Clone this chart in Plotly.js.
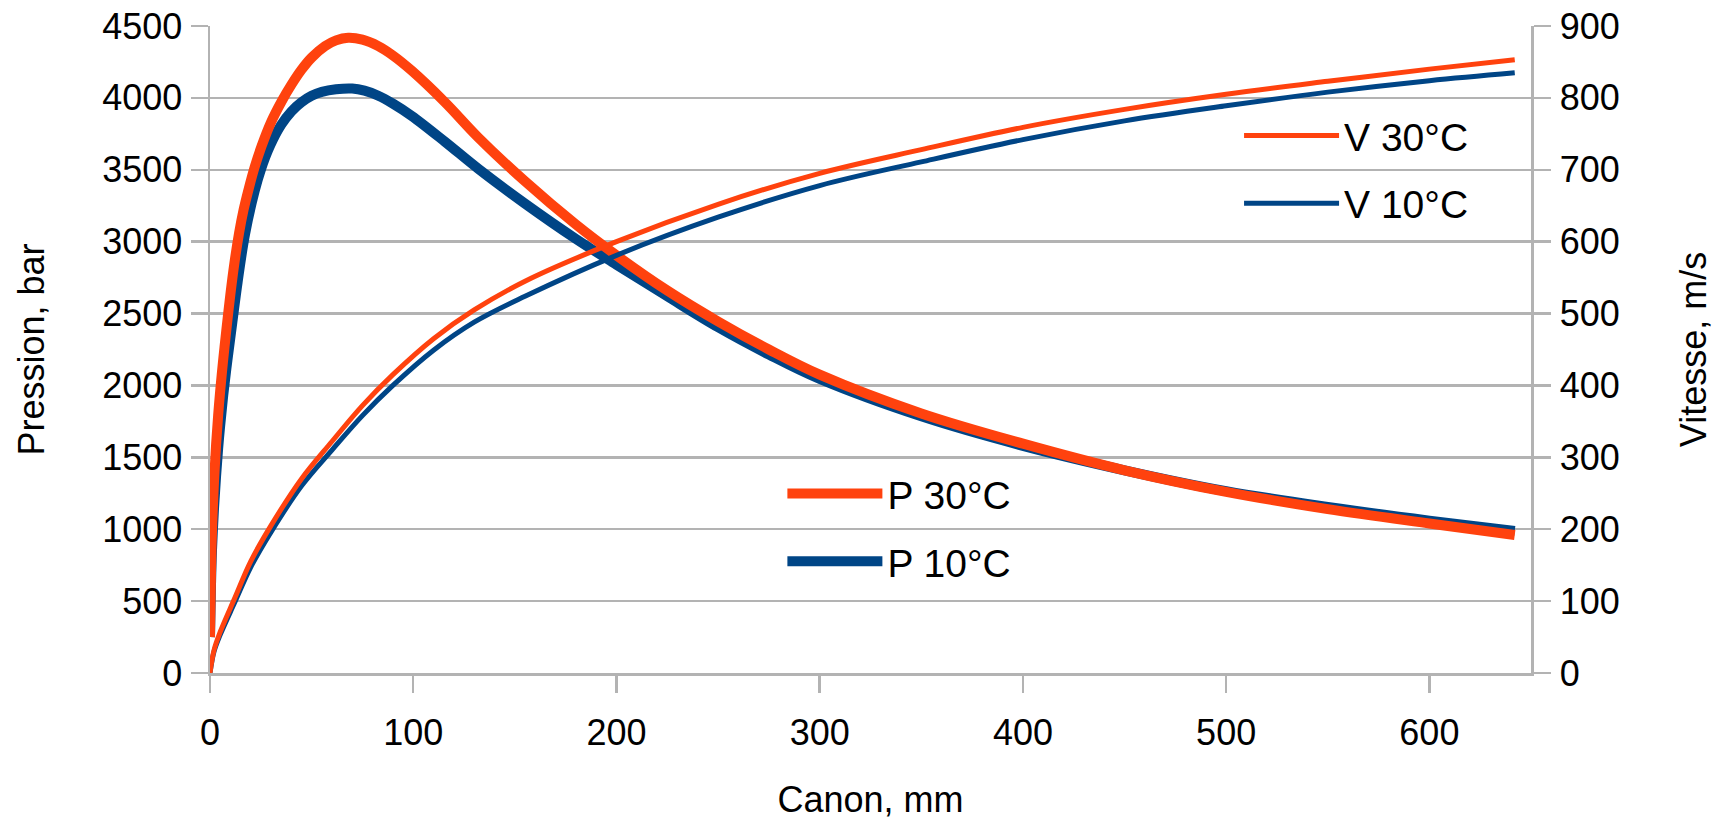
<!DOCTYPE html>
<html>
<head>
<meta charset="utf-8">
<script src="https://cdn.plot.ly/plotly-3.0.1.min.js"></script>
<style>
  html, body { margin: 0; padding: 0; background: #ffffff; }
  #chart { width: 1720px; height: 821px; }
</style>
</head>
<body>
<div id="chart"></div>
<script>
// Barrel travel (mm) and pressure (bar) at 30 °C
const canonP30 = [0, 0.5, 1, 2, 3, 4, 5, 6.5, 8, 10, 12, 14.3, 16.5, 18.9, 22, 25.4, 30, 35.2, 40, 45, 50, 56.6, 62, 68, 75, 82.8, 90, 99.2, 115.6, 132, 155, 180, 200, 225, 250, 275, 300, 350, 400, 450, 500, 550, 600, 642];
const pression30 = [250, 700, 990, 1340, 1590, 1790, 1960, 2180, 2380, 2630, 2850, 3060, 3220, 3360, 3520, 3665, 3830, 3975, 4090, 4195, 4280, 4360, 4400, 4418, 4405, 4360, 4295, 4190, 3970, 3725, 3420, 3120, 2905, 2660, 2445, 2250, 2075, 1805, 1595, 1410, 1260, 1140, 1040, 960];

// Barrel travel (mm) and pressure (bar) at 10 °C
const canonP10 = [0, 0.5, 1, 2, 3, 4, 5, 6.5, 8.6, 11, 13.6, 17.2, 22, 25, 29.5, 35, 40, 45, 50, 55, 62, 70, 76, 82.8, 90, 99.2, 115.6, 132, 155, 180, 200, 225, 250, 275, 300, 350, 400, 450, 500, 550, 600, 642];
const pression10 = [250, 620, 860, 1150, 1370, 1560, 1720, 1930, 2180, 2440, 2720, 3050, 3354, 3500, 3665, 3812, 3905, 3970, 4015, 4042, 4060, 4065, 4050, 4015, 3960, 3875, 3695, 3507, 3265, 3020, 2840, 2620, 2405, 2215, 2045, 1785, 1580, 1410, 1265, 1155, 1060, 988];

// Barrel travel (mm) and velocity (m/s)
const canonV = [0, 2, 5, 12.3, 20, 30, 45, 60, 75, 90, 110, 130, 155, 200, 250, 300, 350, 400, 450, 500, 550, 600, 642];
const vitesse30 = [0, 32, 57, 105, 155, 205, 270, 322, 372, 415, 465, 505, 545, 600, 652, 695, 728, 759, 784, 805, 823, 840, 853];
const vitesse10 = [0, 30, 53, 99, 147, 196, 260, 310, 358, 400, 449, 488, 524, 581, 634, 678, 711, 742, 768, 789, 808, 824, 835];

const names = { p30: "P 30°C", p10: "P 10°C", v30: "V 30°C", v10: "V 10°C" };
const colOrange = "#ff420e";
const colBlue = "#004586";
const FONT = "Liberation Sans, Arial, sans-serif";
const GRID = "#b3b3b3";

const traces = [
  { x: canonP10, y: pression10, name: names.p10, type: "scatter", mode: "lines",
    line: { color: colBlue, width: 10, shape: "spline", smoothing: 1 },
    legend: "legend", legendgroup: "p10", legendrank: 2, yaxis: "y" },
  { x: canonP30, y: pression30, name: names.p30, type: "scatter", mode: "lines",
    line: { color: colOrange, width: 10, shape: "spline", smoothing: 1 },
    legend: "legend", legendgroup: "p30", legendrank: 1, yaxis: "y" },
  { x: canonV, y: vitesse10, name: names.v10, type: "scatter", mode: "lines",
    line: { color: colBlue, width: 5, shape: "spline", smoothing: 1 },
    legend: "legend2", legendgroup: "v10", legendrank: 2, yaxis: "y2" },
  { x: canonV, y: vitesse30, name: names.v30, type: "scatter", mode: "lines",
    line: { color: colOrange, width: 5, shape: "spline", smoothing: 1 },
    legend: "legend2", legendgroup: "v30", legendrank: 1, yaxis: "y2" }
];

const tickFont = { family: FONT, size: 36, color: "#000000" };
const titleFont = { family: FONT, size: 36, color: "#000000" };

const layout = {
  width: 1720, height: 821,
  margin: { l: 210, r: 189, t: 26, b: 148, pad: 0 },
  paper_bgcolor: "#ffffff", plot_bgcolor: "#ffffff",
  font: { family: FONT, size: 36, color: "#000000" },
  showlegend: true,
  xaxis: {
    range: [0, 650], dtick: 100, tick0: 0,
    showgrid: false, zeroline: false,
    showline: true, linecolor: GRID, linewidth: 2.5,
    ticks: "outside", ticklen: 17, tickwidth: 2.5, tickcolor: GRID,
    tickfont: tickFont, ticklabelstandoff: 9,
    title: { text: "Canon, mm", font: titleFont, standoff: 35 }
  },
  yaxis: {
    range: [0, 4500], dtick: 500, tick0: 0,
    showgrid: true, gridcolor: GRID, gridwidth: 2.5, zeroline: false,
    showline: true, linecolor: GRID, linewidth: 2.5,
    ticks: "outside", ticklen: 17, tickwidth: 2.5, tickcolor: GRID,
    tickfont: tickFont, ticklabelstandoff: 1,
    title: { text: "Pression, bar", font: titleFont, standoff: 47 }
  },
  yaxis2: {
    overlaying: "y", side: "right", anchor: "x",
    range: [0, 900], dtick: 100, tick0: 0,
    showgrid: false, zeroline: false,
    showline: true, linecolor: GRID, linewidth: 2.5,
    ticks: "outside", ticklen: 17, tickwidth: 2.5, tickcolor: GRID,
    tickfont: tickFont, ticklabelstandoff: 2,
    title: { text: "Vitesse, m/s", font: titleFont, standoff: 62 }
  },
  legend: {
    x: 0.4333, xanchor: "left", y: 0.3265, yanchor: "top",
    bgcolor: "rgba(0,0,0,0)", borderwidth: 0,
    font: { family: FONT, size: 39, color: "#000000" },
    itemwidth: 95, tracegroupgap: 14, traceorder: "grouped"
  },
  legend2: {
    x: 0.779, xanchor: "left", y: 0.88, yanchor: "top",
    bgcolor: "rgba(0,0,0,0)", borderwidth: 0,
    font: { family: FONT, size: 39, color: "#000000" },
    itemwidth: 95, tracegroupgap: 14, traceorder: "grouped"
  }
};

Plotly.newPlot("chart", traces, layout, { displayModeBar: false, staticPlot: true });
</script>
</body>
</html>
